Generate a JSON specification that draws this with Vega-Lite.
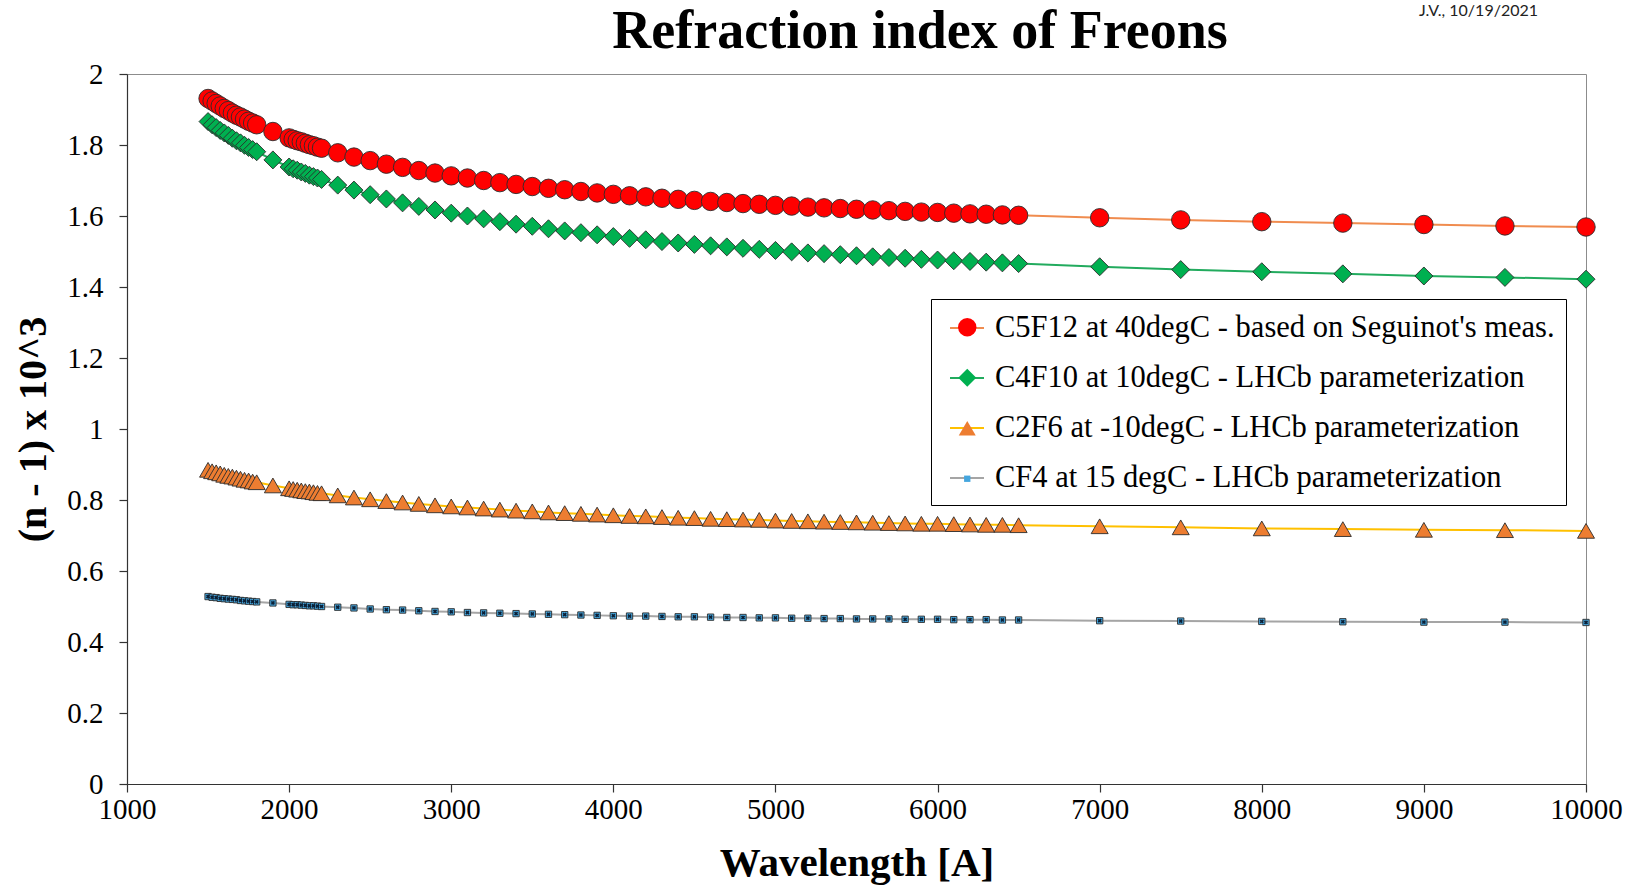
{
  "$schema": "https://vega.github.io/schema/vega-lite/v6.json",
  "width": 1459,
  "height": 710,
  "autosize": {"type": "none"},
  "padding": {"left": 127, "top": 74, "right": 46, "bottom": 104},
  "background": "white",
  "config": {
    "view": {"stroke": "#8c8c8c", "strokeWidth": 1},
    "axis": {
      "grid": false,
      "labelFont": "Liberation Serif",
      "labelFontSize": 29,
      "labelColor": "black",
      "titleFont": "Liberation Serif",
      "titleFontWeight": "bold",
      "titleColor": "black",
      "domainColor": "#333333",
      "domainWidth": 1.2,
      "tickColor": "#333333",
      "tickWidth": 1.2,
      "tickSize": 8,
      "labelOverlap": false,
      "labelFlush": false
    }
  },
  "data": {
    "values": [
      {"w": 1500, "C5F12": 1.931, "C4F10": 1.866, "C2F6": 0.885, "CF4": 0.528},
      {"w": 1525, "C5F12": 1.924, "C4F10": 1.857, "C2F6": 0.881, "CF4": 0.526},
      {"w": 1550, "C5F12": 1.917, "C4F10": 1.849, "C2F6": 0.878, "CF4": 0.525},
      {"w": 1575, "C5F12": 1.910, "C4F10": 1.841, "C2F6": 0.875, "CF4": 0.523},
      {"w": 1600, "C5F12": 1.903, "C4F10": 1.834, "C2F6": 0.871, "CF4": 0.522},
      {"w": 1625, "C5F12": 1.897, "C4F10": 1.827, "C2F6": 0.868, "CF4": 0.521},
      {"w": 1650, "C5F12": 1.890, "C4F10": 1.819, "C2F6": 0.866, "CF4": 0.520},
      {"w": 1675, "C5F12": 1.884, "C4F10": 1.812, "C2F6": 0.863, "CF4": 0.519},
      {"w": 1700, "C5F12": 1.879, "C4F10": 1.806, "C2F6": 0.860, "CF4": 0.517},
      {"w": 1725, "C5F12": 1.873, "C4F10": 1.799, "C2F6": 0.857, "CF4": 0.516},
      {"w": 1750, "C5F12": 1.867, "C4F10": 1.793, "C2F6": 0.855, "CF4": 0.515},
      {"w": 1775, "C5F12": 1.862, "C4F10": 1.787, "C2F6": 0.852, "CF4": 0.514},
      {"w": 1800, "C5F12": 1.857, "C4F10": 1.781, "C2F6": 0.850, "CF4": 0.513},
      {"w": 1900, "C5F12": 1.838, "C4F10": 1.758, "C2F6": 0.841, "CF4": 0.510},
      {"w": 2000, "C5F12": 1.820, "C4F10": 1.738, "C2F6": 0.833, "CF4": 0.506},
      {"w": 2025, "C5F12": 1.816, "C4F10": 1.733, "C2F6": 0.831, "CF4": 0.505},
      {"w": 2050, "C5F12": 1.812, "C4F10": 1.729, "C2F6": 0.829, "CF4": 0.505},
      {"w": 2075, "C5F12": 1.809, "C4F10": 1.724, "C2F6": 0.827, "CF4": 0.504},
      {"w": 2100, "C5F12": 1.805, "C4F10": 1.720, "C2F6": 0.825, "CF4": 0.503},
      {"w": 2125, "C5F12": 1.801, "C4F10": 1.715, "C2F6": 0.824, "CF4": 0.502},
      {"w": 2150, "C5F12": 1.798, "C4F10": 1.711, "C2F6": 0.822, "CF4": 0.502},
      {"w": 2175, "C5F12": 1.794, "C4F10": 1.707, "C2F6": 0.820, "CF4": 0.501},
      {"w": 2200, "C5F12": 1.791, "C4F10": 1.703, "C2F6": 0.819, "CF4": 0.500},
      {"w": 2300, "C5F12": 1.778, "C4F10": 1.687, "C2F6": 0.813, "CF4": 0.498},
      {"w": 2400, "C5F12": 1.766, "C4F10": 1.673, "C2F6": 0.807, "CF4": 0.496},
      {"w": 2500, "C5F12": 1.756, "C4F10": 1.660, "C2F6": 0.802, "CF4": 0.493},
      {"w": 2600, "C5F12": 1.746, "C4F10": 1.648, "C2F6": 0.797, "CF4": 0.491},
      {"w": 2700, "C5F12": 1.737, "C4F10": 1.637, "C2F6": 0.793, "CF4": 0.490},
      {"w": 2800, "C5F12": 1.728, "C4F10": 1.627, "C2F6": 0.789, "CF4": 0.488},
      {"w": 2900, "C5F12": 1.721, "C4F10": 1.617, "C2F6": 0.785, "CF4": 0.486},
      {"w": 3000, "C5F12": 1.713, "C4F10": 1.608, "C2F6": 0.782, "CF4": 0.485},
      {"w": 3100, "C5F12": 1.707, "C4F10": 1.600, "C2F6": 0.779, "CF4": 0.483},
      {"w": 3200, "C5F12": 1.700, "C4F10": 1.592, "C2F6": 0.776, "CF4": 0.482},
      {"w": 3300, "C5F12": 1.694, "C4F10": 1.584, "C2F6": 0.773, "CF4": 0.481},
      {"w": 3400, "C5F12": 1.689, "C4F10": 1.577, "C2F6": 0.770, "CF4": 0.480},
      {"w": 3500, "C5F12": 1.683, "C4F10": 1.571, "C2F6": 0.768, "CF4": 0.479},
      {"w": 3600, "C5F12": 1.678, "C4F10": 1.564, "C2F6": 0.765, "CF4": 0.478},
      {"w": 3700, "C5F12": 1.674, "C4F10": 1.558, "C2F6": 0.763, "CF4": 0.477},
      {"w": 3800, "C5F12": 1.669, "C4F10": 1.553, "C2F6": 0.761, "CF4": 0.476},
      {"w": 3900, "C5F12": 1.665, "C4F10": 1.547, "C2F6": 0.759, "CF4": 0.475},
      {"w": 4000, "C5F12": 1.661, "C4F10": 1.542, "C2F6": 0.757, "CF4": 0.474},
      {"w": 4100, "C5F12": 1.657, "C4F10": 1.537, "C2F6": 0.755, "CF4": 0.473},
      {"w": 4200, "C5F12": 1.654, "C4F10": 1.533, "C2F6": 0.754, "CF4": 0.473},
      {"w": 4300, "C5F12": 1.650, "C4F10": 1.528, "C2F6": 0.752, "CF4": 0.472},
      {"w": 4400, "C5F12": 1.647, "C4F10": 1.524, "C2F6": 0.750, "CF4": 0.471},
      {"w": 4500, "C5F12": 1.644, "C4F10": 1.520, "C2F6": 0.749, "CF4": 0.471},
      {"w": 4600, "C5F12": 1.641, "C4F10": 1.516, "C2F6": 0.747, "CF4": 0.470},
      {"w": 4700, "C5F12": 1.638, "C4F10": 1.513, "C2F6": 0.746, "CF4": 0.469},
      {"w": 4800, "C5F12": 1.635, "C4F10": 1.509, "C2F6": 0.745, "CF4": 0.469},
      {"w": 4900, "C5F12": 1.633, "C4F10": 1.506, "C2F6": 0.744, "CF4": 0.468},
      {"w": 5000, "C5F12": 1.630, "C4F10": 1.503, "C2F6": 0.742, "CF4": 0.468},
      {"w": 5100, "C5F12": 1.628, "C4F10": 1.499, "C2F6": 0.741, "CF4": 0.467},
      {"w": 5200, "C5F12": 1.625, "C4F10": 1.496, "C2F6": 0.740, "CF4": 0.467},
      {"w": 5300, "C5F12": 1.623, "C4F10": 1.494, "C2F6": 0.739, "CF4": 0.466},
      {"w": 5400, "C5F12": 1.621, "C4F10": 1.491, "C2F6": 0.738, "CF4": 0.466},
      {"w": 5500, "C5F12": 1.619, "C4F10": 1.488, "C2F6": 0.737, "CF4": 0.465},
      {"w": 5600, "C5F12": 1.617, "C4F10": 1.485, "C2F6": 0.736, "CF4": 0.465},
      {"w": 5700, "C5F12": 1.615, "C4F10": 1.483, "C2F6": 0.735, "CF4": 0.465},
      {"w": 5800, "C5F12": 1.613, "C4F10": 1.481, "C2F6": 0.734, "CF4": 0.464},
      {"w": 5900, "C5F12": 1.611, "C4F10": 1.478, "C2F6": 0.733, "CF4": 0.464},
      {"w": 6000, "C5F12": 1.610, "C4F10": 1.476, "C2F6": 0.733, "CF4": 0.464},
      {"w": 6100, "C5F12": 1.608, "C4F10": 1.474, "C2F6": 0.732, "CF4": 0.463},
      {"w": 6200, "C5F12": 1.606, "C4F10": 1.472, "C2F6": 0.731, "CF4": 0.463},
      {"w": 6300, "C5F12": 1.605, "C4F10": 1.470, "C2F6": 0.730, "CF4": 0.463},
      {"w": 6400, "C5F12": 1.603, "C4F10": 1.468, "C2F6": 0.730, "CF4": 0.462},
      {"w": 6500, "C5F12": 1.602, "C4F10": 1.466, "C2F6": 0.729, "CF4": 0.462},
      {"w": 7000, "C5F12": 1.595, "C4F10": 1.457, "C2F6": 0.726, "CF4": 0.460},
      {"w": 7500, "C5F12": 1.589, "C4F10": 1.449, "C2F6": 0.723, "CF4": 0.459},
      {"w": 8000, "C5F12": 1.584, "C4F10": 1.443, "C2F6": 0.720, "CF4": 0.458},
      {"w": 8500, "C5F12": 1.580, "C4F10": 1.437, "C2F6": 0.718, "CF4": 0.457},
      {"w": 9000, "C5F12": 1.576, "C4F10": 1.431, "C2F6": 0.716, "CF4": 0.456},
      {"w": 9500, "C5F12": 1.572, "C4F10": 1.427, "C2F6": 0.715, "CF4": 0.456},
      {"w": 10000, "C5F12": 1.569, "C4F10": 1.422, "C2F6": 0.713, "CF4": 0.455}
    ]
  },
  "layer": [
    {
      "transform": [{"fold": ["C5F12", "C4F10", "C2F6", "CF4"], "as": ["series", "v"]}],
      "mark": {"type": "line", "strokeWidth": 2},
      "encoding": {
        "x": {
          "field": "w",
          "type": "quantitative",
          "scale": {"domain": [1000, 10000], "nice": false, "zero": false},
          "axis": {
            "values": [1000, 2000, 3000, 4000, 5000, 6000, 7000, 8000, 9000, 10000],
            "format": "d",
            "title": "Wavelength [A]",
            "titleFontSize": 41,
            "titlePadding": 19,
            "labelPadding": 3
          }
        },
        "y": {
          "field": "v",
          "type": "quantitative",
          "scale": {"domain": [0, 2], "nice": false},
          "axis": {
            "values": [0, 0.2, 0.4, 0.6, 0.8, 1, 1.2, 1.4, 1.6, 1.8, 2],
            "format": "~g",
            "title": "(n - 1) x 10^3",
            "titleFontSize": 40,
            "titlePadding": 13,
            "labelPadding": 16
          }
        },
        "stroke": {
          "field": "series",
          "type": "nominal",
          "sort": {"field": "v", "op": "max", "order": "descending"},
          "scale": {"range": ["#f08c4f", "#22ab5e", "#ffc000", "#a5a5a5"]},
          "legend": {
            "orient": "none",
            "legendX": 804,
            "legendY": 225,
            "title": null,
            "symbolType": "stroke",
            "symbolSize": 1156,
            "symbolStrokeWidth": 2,
            "symbolOffset": 7,
            "fillColor": "white",
            "strokeColor": "black",
            "padding": 11,
            "rowPadding": 16,
            "labelFont": "Liberation Serif",
            "labelFontSize": 30.5,
            "labelColor": "black",
            "labelOffset": 10,
            "labelLimit": 0,
            "zindex": 0,
            "labelExpr": "datum.label == 'C5F12' ? \"C5F12 at 40degC - based on Seguinot's meas.\" : datum.label == 'C4F10' ? 'C4F10 at 10degC - LHCb parameterization' : datum.label == 'C2F6' ? 'C2F6 at -10degC - LHCb parameterization' : 'CF4 at 15 degC - LHCb parameterization'"
          }
        }
      }
    },
    {
      "transform": [{"fold": ["C5F12", "C4F10", "C2F6", "CF4"], "as": ["label", "v"]}],
      "mark": {"type": "point", "filled": true, "opacity": 1, "stroke": "#2b2b2b", "strokeWidth": 0.9},
      "encoding": {
        "x": {"field": "w", "type": "quantitative"},
        "y": {"field": "v", "type": "quantitative"},
        "fill": {
          "field": "label",
          "type": "nominal",
          "sort": {"field": "v", "op": "max", "order": "descending"},
          "scale": {"range": ["#ff0000", "#00b050", "#ed7d31", "#45a6de"]},
          "legend": {
            "orient": "none", "legendX": 814, "legendY": 227, "title": null,
            "padding": 11, "rowPadding": 19.5, "labelFont": "Liberation Serif", "labelFontSize": 30.5,
            "labelExpr": "''", "labelOffset": 11, "labelLimit": 0, "zindex": 1,
            "symbolStrokeColor": "#2b2b2b", "symbolStrokeWidth": 0.9
          }
        },
        "shape": {
          "field": "label",
          "type": "nominal",
          "sort": {"field": "v", "op": "max", "order": "descending"},
          "scale": {"range": ["circle", "diamond", "triangle-up", "square"]},
          "legend": {
            "orient": "none", "legendX": 814, "legendY": 227, "title": null,
            "padding": 11, "rowPadding": 19.5, "labelFont": "Liberation Serif", "labelFontSize": 30.5,
            "labelExpr": "''", "labelOffset": 11, "labelLimit": 0, "zindex": 1,
            "symbolStrokeColor": "#2b2b2b", "symbolStrokeWidth": 0.9
          }
        },
        "size": {
          "field": "label",
          "type": "nominal",
          "sort": {"field": "v", "op": "max", "order": "descending"},
          "scale": {"type": "ordinal", "range": [340, 324, 289, 40]},
          "legend": {
            "orient": "none", "legendX": 814, "legendY": 227, "title": null,
            "padding": 11, "rowPadding": 19.5, "labelFont": "Liberation Serif", "labelFontSize": 30.5,
            "labelExpr": "''", "labelOffset": 11, "labelLimit": 0, "zindex": 1,
            "symbolStrokeColor": "#2b2b2b", "symbolStrokeWidth": 0.9
          }
        }
      }
    },
    {
      "mark": {"type": "point", "shape": "cross", "angle": 45, "filled": true, "fill": "#0b2036", "size": 18, "strokeWidth": 0, "opacity": 1},
      "encoding": {
        "x": {"field": "w", "type": "quantitative"},
        "y": {"field": "CF4", "type": "quantitative"}
      }
    },
    {
      "data": {"values": [{"t": "Refraction index of Freons"}]},
      "mark": {"type": "text", "align": "center", "baseline": "alphabetic", "font": "Liberation Serif", "fontSize": 54, "fontWeight": "bold", "color": "black", "clip": false},
      "encoding": {
        "x": {"datum": 5892, "type": "quantitative"},
        "y": {"datum": 2.0732, "type": "quantitative"},
        "text": {"field": "t", "type": "nominal"}
      }
    },
    {
      "data": {"values": [{"t": "J.V., 10/19/2021"}]},
      "mark": {"type": "text", "align": "right", "baseline": "alphabetic", "font": "Lato", "fontSize": 16, "color": "#222222", "clip": false},
      "encoding": {
        "x": {"datum": 9704, "type": "quantitative"},
        "y": {"datum": 2.164, "type": "quantitative"},
        "text": {"field": "t", "type": "nominal"}
      }
    }
  ]
}
